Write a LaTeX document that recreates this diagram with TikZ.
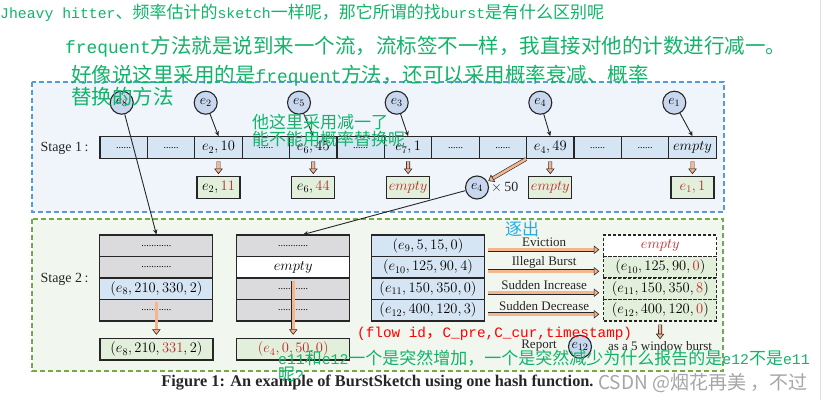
\RequirePackage{fix-cm}
\documentclass[tikz,border=0pt]{standalone}
\usepackage{fontspec}
\setmainfont{Liberation Serif}
\setmonofont[Scale=0.87]{Liberation Mono}
\newfontfamily\cjkfont{Noto Sans CJK SC}
\usetikzlibrary{arrows.meta}
\definecolor{ink}       {HTML}{262626}
\definecolor{frameblue} {HTML}{5B9BD5}
\definecolor{paleblue}  {HTML}{F0F5FC}
\definecolor{framegreen}{HTML}{70AD47}
\definecolor{palegreen} {HTML}{F1F6EE}
\definecolor{cellblue}  {HTML}{D5E5F3}
\definecolor{cellgray}  {HTML}{DBDBDD}
\definecolor{outgreen}  {HTML}{E2EFDA}
\definecolor{salmon}    {HTML}{F4B58F}
\definecolor{keyblue}   {HTML}{C8D7EE}
\definecolor{hired}     {HTML}{C0262D}
\definecolor{notegreen} {HTML}{12B36A}
\definecolor{notered}   {HTML}{FF0000}
\definecolor{notecyan}  {HTML}{1EAEE8}
\definecolor{wmgray}    {HTML}{A6A6A6}
\newcommand{\celldots}{{\fontsize{10}{12}\selectfont ......}}
\newcommand{\rowdots}{{\fontsize{10}{12}\selectfont ............}}
\newcommand{\monotxt}[1]{{\ttfamily #1}}
\tikzset{
  s1frame/.style  ={draw=frameblue, fill=paleblue, line width=1.1pt, dash pattern=on 5pt off 3pt},
  s2frame/.style  ={draw=framegreen, fill=palegreen, line width=1.1pt, dash pattern=on 5pt off 3pt},
  stagelbl/.style ={font=\fontsize{14}{16}\selectfont, text=ink, inner sep=1pt},
  cellbox/.style  ={draw=ink, fill=cellblue, line width=1.1pt,
                    minimum width=47.4pt, minimum height=22pt,
                    inner sep=0pt, font=\fontsize{14.5}{16}\selectfont},
  outbox/.style   ={draw=ink, fill=outgreen, line width=1.3pt,
                    minimum width=43pt, minimum height=21.5pt,
                    inner sep=0pt, font=\fontsize{14.5}{16}\selectfont},
  keycirc/.style  ={circle, draw=ink, fill=keyblue, line width=1.1pt,
                    minimum size=23pt, inner sep=0pt, font=\fontsize{14}{15}\selectfont},
  rowbox/.style   ={draw=ink, line width=1.1pt, minimum width=113pt, minimum height=21.5pt,
                    inner sep=0pt, font=\fontsize{14.5}{16}\selectfont},
  dashrow/.style  ={rowbox, fill=outgreen, dash pattern=on 3pt off 2pt},
  ptrarr/.style   ={-{Stealth[length=5pt,width=4.5pt]}, line width=0.9pt, draw=ink},
  fatarr/.style   ={draw=ink, line width=0.6pt, double=salmon, double distance=2.6pt,
                    -{Triangle[length=5.5pt,width=8.5pt,fill=salmon,line width=0.6pt]}},
  tag/.style      ={font=\fontsize{13}{15}\selectfont, text=ink, inner sep=1pt},
  greennote/.style={anchor=west, inner sep=0pt, text=notegreen, align=left,
                    font=\cjkfont\fontsize{#1}{#1}\selectfont},
}
\begin{document}
\begin{tikzpicture}[x=1pt,y=-1pt]
  \useasboundingbox (0,0) rectangle (824,400);
  \fill[white] (0,0) rectangle (824,400);
  \draw[black!12, line width=0.8pt] (820,0) -- (820,400);

  % stage frames
  \draw[s1frame] (32,82) rectangle (724,212);
  \draw[s2frame] (32,219) rectangle (723,371);

  % stage 1
  \node[stagelbl] (st1) at (64.5,148) {Stage 1\,:};
  \foreach \i/\t in {1/\celldots, 2/\celldots, 3/{$e_2, 10$}, 4/\celldots, 5/{$e_6, 45$},
                     6/\celldots, 7/{$e_7, 1$}, 8/\celldots, 9/\celldots, 10/{$e_4, 49$},
                     11/\celldots, 12/\celldots, 13/{$empty$}}
    \node[cellbox] (cell\i) at ({100+47.4*(\i-0.5)},147.7) {\t};

  \node[keycirc] (ke8) at (121.7,102.7) {$e_8$};
  \node[keycirc] (ke2) at (205.7,102.7) {$e_2$};
  \node[keycirc] (ke5) at (299,102.7)   {$e_5$};
  \node[keycirc] (ke3) at (396.7,102.7) {$e_3$};
  \node[keycirc] (ke4) at (540.3,102.7) {$e_4$};
  \node[keycirc] (ke1) at (674.3,102.7) {$e_1$};

  \draw[ptrarr] (ke2) -- (cell3.north);
  \draw[ptrarr] (ke5) -- (cell5.north);
  \draw[ptrarr] (ke3) -- (cell7.north);
  \draw[ptrarr] (ke4) -- (cell10.north);
  \draw[ptrarr] (ke1) -- (cell13.north);

  \node[outbox] (out3)  at (218.5,187.5) {$e_2, \textcolor{hired}{11}$};
  \node[outbox] (out5)  at (313.3,187.5) {$e_6, \textcolor{hired}{44}$};
  \node[outbox, text=hired] (out7)  at (408.1,187.5) {$empty$};
  \node[outbox, text=hired] (out10) at (550.3,187.5) {$empty$};
  \node[outbox, text=hired] (out13) at (692.5,187.5) {$e_1, 1$};

  \foreach \i in {3,5,7,10,13}
    \draw[fatarr, shorten <=2pt, shorten >=2pt] (cell\i) -- (out\i);

  \node[keycirc] (ke4b) at (477,187.5) {$e_4$};
  \node[tag, anchor=west, font=\fontsize{14}{15}\selectfont] (times) at (490,187) {$\times$\,50};
  \draw[fatarr, shorten >=1pt] (cell10.205) -- (ke4b);

  % stage 2
  \node[stagelbl] (st2) at (64.5,279) {Stage 2\,:};

  \node[rowbox, fill=cellgray] (sa1) at (156.4,245.75) {\rowdots};
  \node[rowbox, fill=cellgray] (sa2) at (156.4,267.25) {\rowdots};
  \node[rowbox, fill=cellblue] (sa3) at (156.4,288.75) {$(e_8, 210, 330, 2)$};
  \node[rowbox, fill=cellgray] (sa4) at (156.4,310.25) {\rowdots};

  \node[rowbox, fill=cellgray] (sb1) at (293.2,245.75) {\rowdots};
  \node[rowbox, fill=white]    (sb2) at (293.2,267.25) {$empty$};
  \node[rowbox, fill=cellgray] (sb3) at (293.2,288.75) {\rowdots};
  \node[rowbox, fill=cellgray] (sb4) at (293.2,310.25) {\rowdots};

  \node[rowbox, fill=cellblue] (sc1) at (428,245.75) {$(e_9, 5, 15, 0)$};
  \node[rowbox, fill=cellblue] (sc2) at (428,267.25) {$(e_{10}, 125, 90, 4)$};
  \node[rowbox, fill=cellblue] (sc3) at (428,288.75) {$(e_{11}, 150, 350, 0)$};
  \node[rowbox, fill=cellblue] (sc4) at (428,310.25) {$(e_{12}, 400, 120, 3)$};

  \node[dashrow, fill=white, text=hired] (sd1) at (660.3,245.75) {$empty$};
  \node[dashrow] (sd2) at (660.3,267.25) {$(e_{10}, 125, 90, \textcolor{hired}{0})$};
  \node[dashrow] (sd3) at (660.3,288.75) {$(e_{11}, 150, 350, \textcolor{hired}{8})$};
  \node[dashrow] (sd4) at (660.3,310.25) {$(e_{12}, 400, 120, \textcolor{hired}{0})$};

  \node[outbox, minimum width=113pt] (outa) at (156.4,349.2) {$(e_8, 210, \textcolor{hired}{331}, 2)$};
  \node[outbox, minimum width=113pt, text=hired] (outb) at (293.2,349.2) {$(e_4, 0, 50, 0)$};

  \draw[ptrarr] (ke8) -- (sa1.north);
  \draw[ptrarr] (ke4b) -- ([xshift=10pt]sb1.north);

  \draw[fatarr, shorten <=2pt, shorten >=3pt] (sa3.south) -- (outa.north);
  \draw[fatarr, shorten <=2pt, shorten >=3pt] (sb2.south) -- (outb.north);

  \draw[fatarr, shorten <=3pt, shorten >=4pt] ([yshift=-4pt]sc1.east) -- ([yshift=-4pt]sd1.west)
    node[tag, midway, above=2pt] {Eviction};
  \draw[fatarr, shorten <=3pt, shorten >=4pt] ([yshift=-4pt]sc2.east) -- ([yshift=-4pt]sd2.west)
    node[tag, midway, above=2pt] {Illegal Burst};
  \draw[fatarr, shorten <=3pt, shorten >=4pt] ([yshift=-4pt]sc3.east) -- ([yshift=-4pt]sd3.west)
    node[tag, midway, above=2pt] {Sudden Increase};
  \draw[fatarr, shorten <=3pt, shorten >=4pt] ([yshift=-4pt]sc4.east) -- ([yshift=-4pt]sd4.west)
    node[tag, midway, above=2pt] {Sudden Decrease};

  \node[tag] (rpt) at (539,346) {Report};
  \node[keycirc] (ke12) at (580,346.7) {$e_{12}$};
  \node[tag] (burst) at (660,346) {as a 5 window burst};
  \draw[fatarr, shorten <=3pt, shorten >=1pt] (sd4) -- (burst);

  % caption
  \node[font=\bfseries\fontsize{16.3}{18}\selectfont, text=ink] (cap) at (377.5,382.7)
    {Figure 1: An example of BurstSketch using one hash function.};
  \node[anchor=west, inner sep=0pt, text=wmgray, font=\cjkfont\fontsize{19}{20}\selectfont] (wm)
    at (598,383) {CSDN @烟花再美 ，不过};

  % notes
  \node[greennote=17] (n1) at (0,13)
    {\monotxt{Jheavy hitter}、频率估计的\monotxt{sketch}一样呢，那它所谓的找\monotxt{burst}是有什么区别呢};
  \node[greennote=20.5] (n2) at (65,47)
    {\monotxt{frequent}方法就是说到来一个流，流标签不一样，我直接对他的计数进行减一。};
  \node[greennote=20.5, font=\cjkfont\fontsize{20.5}{22}\selectfont] (n3) at (71,86)
    {好像说这里采用的是\monotxt{frequent}方法，还可以采用概率衰减、概率\\替换的方法};
  \node[greennote=17] (n4) at (252,130.5) {他这里采用减一了\\能不能用概率替换呢};
  \node[anchor=west, inner sep=0pt, text=notecyan, font=\cjkfont\fontsize{17}{17}\selectfont] (n5)
    at (505,229) {逐出};
  \node[anchor=west, inner sep=0pt, text=notered, font=\cjkfont\fontsize{16.5}{17}\selectfont] (n6)
    at (357,334) {\monotxt{(flow id}，\monotxt{C\_pre,C\_cur,timestamp)}};
  \node[greennote=17, font=\cjkfont\fontsize{17}{14.5}\selectfont] (n7) at (278,365.7)
    {\monotxt{e11}和\monotxt{e12}一个是突然增加，一个是突然减少为什么报告的是\monotxt{e12}不是\monotxt{e11}\\呢\monotxt{?}};
\end{tikzpicture}
\end{document}
